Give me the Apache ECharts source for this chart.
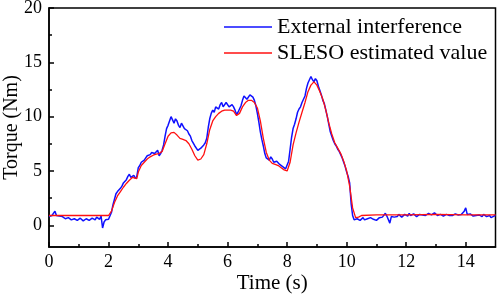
<!DOCTYPE html>
<html>
<head>
<meta charset="utf-8" />
<script src="https://cdn.jsdelivr.net/npm/echarts/dist/echarts.min.js"></script>
<style>
  html, body { margin: 0; padding: 0; background: #fff; }
  #main { width: 498px; height: 297px; }
</style>
</head>
<body>
<div id="main"></div>
<script type="text/javascript">
// tick values
var xMajor = [0, 2, 4, 6, 8, 10, 12, 14];
var xMinor = [1, 3, 5, 7, 9, 11, 13];
var yMajor = [0, 5, 10, 15, 20];
var yMinor = [2.5, 7.5, 12.5, 17.5];

// External interference [time, torque]
var external = [
  [0.0, 0.8], [0.05, 0.95], [0.1, 0.9], [0.15, 0.85], [0.2, 1.3], [0.25, 0.9], [0.3, 0.8], [0.35, 0.85],
  [0.4, 0.7], [0.45, 0.8], [0.5, 0.75], [0.55, 0.6], [0.6, 0.55], [0.65, 0.7], [0.7, 0.6], [0.75, 0.5],
  [0.8, 0.45], [0.85, 0.6], [0.9, 0.65], [0.95, 0.45], [1.0, 0.5], [1.05, 0.65], [1.1, 0.55], [1.15, 0.4],
  [1.2, 0.4], [1.25, 0.6], [1.3, 0.7], [1.35, 0.45], [1.4, 0.5], [1.45, 0.65], [1.5, 0.6], [1.55, 0.5],
  [1.6, 0.75], [1.65, 0.6], [1.7, 0.55], [1.75, 0.85], [1.8, -0.25], [1.85, 0.3], [1.9, 0.5], [1.95, 0.4],
  [2.0, 0.55], [2.05, 0.7], [2.1, 1.2], [2.15, 1.9], [2.2, 2.4], [2.25, 2.9], [2.3, 3.1], [2.35, 3.0],
  [2.4, 3.4], [2.45, 3.6], [2.5, 3.9], [2.55, 3.8], [2.6, 4.2], [2.65, 4.5], [2.7, 4.7], [2.75, 4.4],
  [2.8, 4.4], [2.85, 4.6], [2.9, 4.3], [2.95, 4.5], [3.0, 5.3], [3.05, 5.5], [3.1, 5.8], [3.15, 5.7],
  [3.2, 6.0], [3.25, 6.2], [3.3, 6.4], [3.35, 6.3], [3.4, 6.5], [3.45, 6.7], [3.5, 6.8], [3.55, 6.6],
  [3.6, 6.7], [3.65, 6.9], [3.7, 6.4], [3.75, 6.6], [3.8, 6.9], [3.85, 7.4], [3.9, 8.2], [3.95, 8.9],
  [4.0, 9.2], [4.05, 9.6], [4.1, 10.0], [4.15, 9.7], [4.2, 9.4], [4.25, 9.8], [4.3, 9.6], [4.35, 9.2],
  [4.4, 9.0], [4.45, 9.4], [4.5, 9.3], [4.55, 8.9], [4.6, 8.9], [4.65, 8.7], [4.7, 8.4], [4.75, 8.2],
  [4.8, 7.8], [4.85, 7.7], [4.9, 7.3], [4.95, 7.2], [5.0, 6.9], [5.05, 7.0], [5.1, 7.1], [5.15, 7.2],
  [5.2, 7.4], [5.25, 7.6], [5.3, 8.0], [5.35, 9.0], [5.4, 9.8], [5.45, 10.3], [5.5, 10.6], [5.55, 10.4],
  [5.6, 10.9], [5.65, 10.8], [5.7, 10.7], [5.75, 11.1], [5.8, 11.3], [5.85, 10.9], [5.9, 11.0], [5.95, 11.3],
  [6.0, 11.2], [6.05, 10.9], [6.1, 11.0], [6.15, 11.1], [6.2, 10.9], [6.25, 10.6], [6.3, 10.2], [6.35, 10.4],
  [6.4, 10.5], [6.45, 11.0], [6.5, 11.5], [6.55, 11.9], [6.6, 12.0], [6.65, 11.6], [6.7, 11.7], [6.75, 12.0],
  [6.8, 12.1], [6.85, 11.8], [6.9, 11.5], [6.95, 11.0], [7.0, 10.3], [7.05, 9.5], [7.1, 8.6], [7.15, 7.9],
  [7.2, 7.3], [7.25, 6.6], [7.3, 6.2], [7.35, 6.1], [7.4, 6.0], [7.45, 6.3], [7.5, 6.1], [7.55, 5.8],
  [7.6, 5.7], [7.65, 5.9], [7.7, 5.8], [7.75, 5.6], [7.8, 5.6], [7.85, 5.4], [7.9, 5.3], [7.95, 5.2],
  [8.0, 5.1], [8.05, 5.9], [8.1, 7.0], [8.15, 8.1], [8.2, 8.9], [8.25, 9.3], [8.3, 9.8], [8.35, 10.4],
  [8.4, 10.7], [8.45, 10.9], [8.5, 11.3], [8.55, 11.4], [8.6, 11.9], [8.65, 12.6], [8.7, 13.1], [8.75, 13.4],
  [8.8, 13.7], [8.85, 13.4], [8.9, 13.2], [8.95, 13.5], [9.0, 13.3], [9.05, 12.8], [9.1, 12.4], [9.15, 12.0],
  [9.2, 11.5], [9.25, 11.2], [9.3, 10.6], [9.35, 10.0], [9.4, 9.3], [9.45, 8.6], [9.5, 8.2], [9.55, 7.8],
  [9.6, 7.5], [9.65, 7.3], [9.7, 7.0], [9.75, 6.8], [9.8, 6.5], [9.85, 6.2], [9.9, 5.8], [9.95, 5.4],
  [10.0, 4.9], [10.05, 4.5], [10.1, 3.9], [10.15, 2.0], [10.2, 0.9], [10.25, 0.5], [10.3, 0.4], [10.35, 0.6],
  [10.4, 0.5], [10.45, 0.45], [10.5, 0.6], [10.55, 0.7], [10.6, 0.5], [10.65, 0.55], [10.7, 0.6], [10.75, 0.75],
  [10.8, 0.7], [10.85, 0.6], [10.9, 0.55], [10.95, 0.65], [11.0, 0.45], [11.05, 0.6], [11.1, 0.7], [11.15, 0.8],
  [11.2, 0.75], [11.25, 0.9], [11.3, 1.1], [11.35, 0.85], [11.4, 0.7], [11.45, 0.2], [11.5, 0.8], [11.55, 0.7],
  [11.6, 0.75], [11.65, 0.9], [11.7, 0.8], [11.75, 1.0], [11.8, 0.95], [11.85, 0.75], [11.9, 0.8], [11.95, 1.0],
  [12.0, 0.9], [12.05, 0.85], [12.1, 1.1], [12.15, 0.9], [12.2, 0.85], [12.25, 1.05], [12.3, 1.0], [12.35, 0.8],
  [12.4, 0.9], [12.45, 1.0], [12.5, 0.85], [12.55, 0.95], [12.6, 1.05], [12.65, 0.9], [12.7, 0.95], [12.75, 1.1],
  [12.8, 1.2], [12.85, 0.95], [12.9, 1.0], [12.95, 1.15], [13.0, 1.1], [13.05, 0.9], [13.1, 0.9], [13.15, 1.0],
  [13.2, 1.0], [13.25, 0.85], [13.3, 0.95], [13.35, 1.0], [13.4, 0.85], [13.45, 0.9], [13.5, 1.0], [13.55, 0.9],
  [13.6, 0.9], [13.65, 1.05], [13.7, 1.2], [13.75, 0.95], [13.8, 0.9], [13.85, 1.0], [13.9, 1.1], [13.95, 1.3],
  [14.0, 1.6], [14.05, 1.0], [14.1, 0.95], [14.15, 1.05], [14.2, 0.9], [14.25, 0.85], [14.3, 1.0], [14.35, 0.9],
  [14.4, 0.85], [14.45, 0.95], [14.5, 0.9], [14.55, 0.8], [14.6, 1.0], [14.65, 0.9], [14.7, 0.8], [14.75, 0.95],
  [14.8, 0.9], [14.85, 0.7], [14.9, 0.75], [14.95, 0.85], [15.0, 0.9]
];

// SLESO estimated value [time, torque]
var estimated = [
  [0.0, 0.9], [1.0, 0.9], [2.0, 0.9], [2.05, 0.95], [2.1, 1.3], [2.2, 2.1], [2.3, 2.7], [2.4, 3.1],
  [2.5, 3.5], [2.6, 3.85], [2.7, 4.15], [2.8, 4.4], [2.85, 4.3], [2.95, 4.3], [3.0, 4.9], [3.1, 5.5],
  [3.2, 5.8], [3.3, 6.1], [3.4, 6.3], [3.5, 6.45], [3.6, 6.55], [3.7, 6.6], [3.8, 6.8], [3.9, 7.5],
  [4.0, 8.2], [4.1, 8.5], [4.2, 8.55], [4.3, 8.3], [4.4, 8.0], [4.5, 7.9], [4.6, 7.8], [4.7, 7.5],
  [4.8, 7.0], [4.9, 6.4], [5.0, 6.0], [5.1, 6.1], [5.2, 6.5], [5.3, 7.5], [5.4, 8.8], [5.5, 9.6],
  [5.6, 10.0], [5.7, 10.3], [5.8, 10.5], [5.9, 10.6], [6.0, 10.6], [6.1, 10.6], [6.2, 10.5], [6.3, 10.1],
  [6.4, 10.3], [6.5, 10.9], [6.6, 11.3], [6.7, 11.5], [6.8, 11.5], [6.9, 11.3], [7.0, 10.8], [7.1, 9.6],
  [7.2, 8.0], [7.3, 6.7], [7.4, 6.0], [7.5, 5.7], [7.6, 5.6], [7.7, 5.5], [7.8, 5.3], [7.9, 5.1],
  [8.0, 5.0], [8.1, 5.8], [8.2, 7.4], [8.3, 8.5], [8.4, 9.5], [8.5, 10.4], [8.6, 11.3], [8.7, 12.3],
  [8.8, 12.9], [8.9, 13.2], [9.0, 12.9], [9.1, 12.3], [9.2, 11.6], [9.3, 10.6], [9.4, 9.4], [9.5, 8.4],
  [9.6, 7.6], [9.7, 7.1], [9.8, 6.6], [9.9, 5.9], [10.0, 5.0], [10.1, 3.6], [10.2, 1.6], [10.3, 0.7],
  [10.4, 0.75], [10.5, 0.9], [11.0, 0.95], [12.0, 0.95], [13.0, 1.0], [14.0, 0.95], [15.0, 0.95]
];

var myChart = echarts.init(document.getElementById('main'));

var font = 'Liberation Serif, Times New Roman, serif';

var option = {
    animation: false,
    textStyle: { fontFamily: font },
    grid: {
        left: 49,
        right: 2.5,
        top: 8,
        bottom: 50,
        outerBoundsMode: 'none',
        containLabel: false,
        show: true,
        borderColor: '#000',
        borderWidth: 1.5
    },
    legend: {
        orient: 'vertical',
        left: 219,
        top: 9,
        itemWidth: 48,
        itemHeight: 1.5,
        itemGap: 0,
        icon: 'rect',
        textStyle: {
            fontFamily: font,
            fontSize: 22,
            lineHeight: 26,
            color: '#000'
        },
        data: ['External interference', 'SLESO estimated value']
    },
    xAxis: [
        {
            type: 'value',
            position: 'bottom',
            min: 0,
            max: 15,
            name: 'Time (s)',
            nameLocation: 'middle',
            nameMoveOverlap: false,
            nameGap: 26,
            nameTextStyle: { fontFamily: font, fontSize: 21, color: '#000' },
            axisLine: { show: true, onZero: false, lineStyle: { color: '#000', width: 1.5 } },
            axisTick: { show: true, inside: true, length: 5, customValues: xMajor, lineStyle: { color: '#000', width: 1.5 } },
            axisLabel: { customValues: xMajor, margin: 6, fontFamily: font, fontSize: 18, color: '#000' },
            splitLine: { show: false }
        },
        {
            type: 'value',
            position: 'bottom',
            min: 0,
            max: 15,
            axisLine: { show: false, onZero: false },
            axisTick: { show: true, inside: true, length: 3, customValues: xMinor, lineStyle: { color: '#000', width: 1.5 } },
            axisLabel: { show: false },
            splitLine: { show: false }
        }
    ],
    yAxis: [
        {
            type: 'value',
            position: 'left',
            min: -2,
            max: 20,
            name: 'Torque (Nm)',
            nameLocation: 'middle',
            nameMoveOverlap: false,
            nameGap: 27,
            nameTextStyle: { fontFamily: font, fontSize: 20, color: '#000' },
            axisLine: { show: true, onZero: false, lineStyle: { color: '#000', width: 1.5 } },
            axisTick: { show: true, inside: true, length: 5, customValues: yMajor, lineStyle: { color: '#000', width: 1.5 } },
            axisLabel: { customValues: yMajor, margin: 7, fontFamily: font, fontSize: 18, color: '#000' },
            splitLine: { show: false }
        },
        {
            type: 'value',
            position: 'left',
            min: -2,
            max: 20,
            axisLine: { show: false, onZero: false },
            axisTick: { show: true, inside: true, length: 3, customValues: yMinor, lineStyle: { color: '#000', width: 1.5 } },
            axisLabel: { show: false },
            splitLine: { show: false }
        }
    ],
    series: [
        {
            name: 'External interference',
            type: 'line',
            color: '#1010ff',
            showSymbol: false,
            symbol: 'none',
            lineStyle: { width: 1.5 },
            data: external
        },
        {
            name: 'SLESO estimated value',
            type: 'line',
            color: '#ff1010',
            showSymbol: false,
            symbol: 'none',
            lineStyle: { width: 1.3 },
            data: estimated
        }
    ]
};

myChart.setOption(option);
</script>
</body>
</html>
